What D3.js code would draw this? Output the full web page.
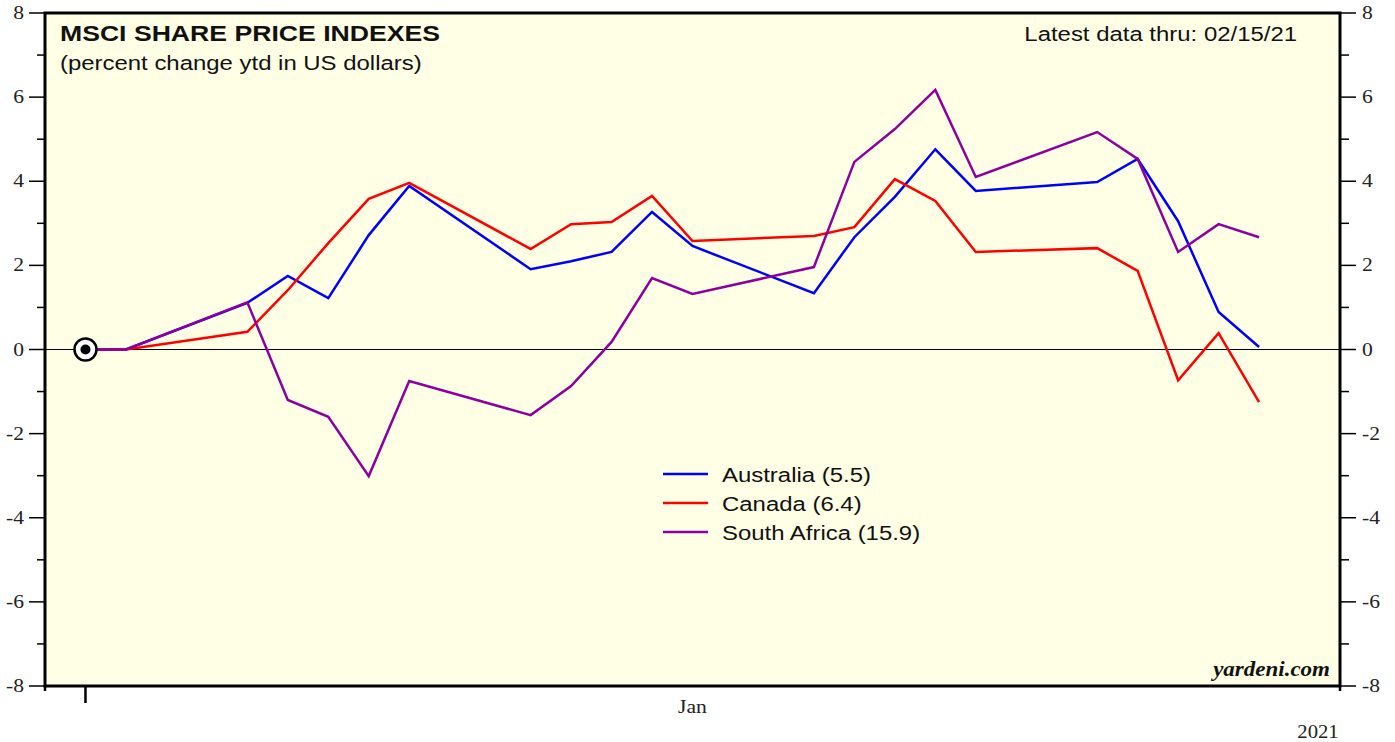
<!DOCTYPE html>
<html><head><meta charset="utf-8">
<script src="https://cdn.jsdelivr.net/npm/d3@7"></script>
<style>body{margin:0;background:#fff}svg{display:block}</style>
</head><body>
<svg id="c" width="1395" height="742"></svg>
<script>
const dates = ["2020-12-31","2021-01-01","2021-01-04","2021-01-05","2021-01-06","2021-01-07","2021-01-08",
 "2021-01-11","2021-01-12","2021-01-13","2021-01-14","2021-01-15","2021-01-18","2021-01-19","2021-01-20",
 "2021-01-21","2021-01-22","2021-01-25","2021-01-26","2021-01-27","2021-01-28","2021-01-29"];
const australia = [0,0,1.11,1.75,1.22,2.72,3.89,1.91,2.10,2.32,3.27,2.46,1.34,2.67,3.63,4.76,3.77,3.98,4.53,3.05,0.89,0.06];
const canada    = [0,0,0.42,1.41,2.53,3.58,3.96,2.39,2.98,3.03,3.65,2.58,2.70,2.91,4.05,3.53,2.32,2.41,1.87,-0.73,0.39,-1.25];
const southAfrica = [0,0,1.12,-1.20,-1.60,-3.01,-0.75,-1.56,-0.87,0.18,1.70,1.32,1.96,4.46,5.24,6.17,4.10,5.17,4.53,2.32,2.98,2.67];
const seriesNames = ["Australia (5.5)","Canada (6.4)","South Africa (15.9)"];
const seriesColors = ["#0000ff","#ff0000","#8c00a0"];
const yTicks = [-8,-6,-4,-2,0,2,4,6,8];
const yMinor = [-7,-5,-3,-1,1,3,5,7];
const xDomain = ["2020-12-30","2021-01-31"];
const monthLabels = [{label:"Jan", date:"2021-01-15"}];
const yearLabel = "2021";

const svg = d3.select("#c");
const L=45, R=1340, T=13, B=686;
const parse = d3.utcParse("%Y-%m-%d");
const x = d3.scaleUtc().domain(xDomain.map(parse)).range([L,R]);
const y = d3.scaleLinear().domain([-8,8]).range([B,T]);
const serif = "Liberation Serif, Times New Roman, serif";
const sans = "Liberation Sans, Arial, sans-serif";

function txt(parent, tx, ty, str, o){
  const g = parent.append("g").attr("transform",`translate(${tx},${ty}) scale(${o.sx||1},1)`);
  return g.append("text").attr("x",0).attr("y",0)
    .attr("text-anchor",o.anchor||"start")
    .attr("font-family",o.family||sans).attr("font-size",o.size||18)
    .attr("font-weight",o.weight||"normal").attr("font-style",o.style||"normal")
    .attr("fill",o.fill||"#111").text(str);
}

svg.append("rect").attr("x",L).attr("y",T).attr("width",R-L).attr("height",B-T).attr("fill","#ffffe6");

// y axes
const leftAx = svg.append("g");
leftAx.selectAll("line.maj").data(yTicks).join("line").attr("x1",29).attr("x2",L).attr("y1",d=>y(d)).attr("y2",d=>y(d)).attr("stroke","#000").attr("stroke-width",1.5);
leftAx.selectAll("line.min").data(yMinor).join("line").attr("x1",37).attr("x2",L).attr("y1",d=>y(d)).attr("y2",d=>y(d)).attr("stroke","#000").attr("stroke-width",1.5);
yTicks.forEach(d=>txt(leftAx, 24, y(d)+6, d, {family:serif,size:18,anchor:"end",sx:1.2,fill:"#222"}));
const rightAx = svg.append("g");
rightAx.selectAll("line.maj").data(yTicks).join("line").attr("x1",R).attr("x2",R+16).attr("y1",d=>y(d)).attr("y2",d=>y(d)).attr("stroke","#000").attr("stroke-width",1.5);
rightAx.selectAll("line.min").data(yMinor).join("line").attr("x1",R).attr("x2",R+9).attr("y1",d=>y(d)).attr("y2",d=>y(d)).attr("stroke","#000").attr("stroke-width",1.5);
yTicks.forEach(d=>txt(rightAx, R+22, y(d)+6, d, {family:serif,size:18,anchor:"start",sx:1.2,fill:"#222"}));

// zero line
svg.append("line").attr("x1",L).attr("x2",R).attr("y1",y(0)).attr("y2",y(0)).attr("stroke","#000").attr("stroke-width",1);

// lines
const allSeries = [australia, canada, southAfrica];
const line = d3.line().x((d,i)=>x(parse(dates[i]))).y(d=>y(d));
[0,1,2].forEach(k=>{
  svg.append("path").datum(allSeries[k]).attr("d",line).attr("fill","none")
   .attr("stroke",seriesColors[k]).attr("stroke-width",2.5).attr("stroke-linejoin","miter");
});

// start marker
const x0 = x(parse(dates[0]));
svg.append("circle").attr("cx",x0).attr("cy",y(0)).attr("r",11).attr("fill","#fff").attr("stroke","#000").attr("stroke-width",2.5);
svg.append("circle").attr("cx",x0).attr("cy",y(0)).attr("r",5).attr("fill","#000");

// frame
svg.append("rect").attr("x",L).attr("y",T).attr("width",R-L).attr("height",B-T).attr("fill","none").attr("stroke","#000").attr("stroke-width",3);

// bottom ticks
svg.append("line").attr("x1",x0).attr("x2",x0).attr("y1",B).attr("y2",B+17).attr("stroke","#000").attr("stroke-width",2.5);
[L,R].forEach(v=>svg.append("line").attr("x1",v).attr("x2",v).attr("y1",B).attr("y2",B+5).attr("stroke","#000").attr("stroke-width",2.5));
monthLabels.forEach(m=>txt(svg, x(parse(m.date)), 713, m.label, {family:serif,size:18,anchor:"middle",sx:1.2,fill:"#222"}));
txt(svg, 1318, 738, yearLabel, {family:serif,size:18,anchor:"middle",sx:1.15,fill:"#222"});

// titles
txt(svg, 60, 41, "MSCI SHARE PRICE INDEXES", {size:22,weight:"bold",sx:1.21});
txt(svg, 60, 70, "(percent change ytd in US dollars)", {size:21,sx:1.14});
txt(svg, 1297, 41, "Latest data thru: 02/15/21", {size:21,anchor:"end",sx:1.14});
txt(svg, 1330, 676, "yardeni.com", {family:serif,size:20,weight:"bold",style:"italic",anchor:"end",sx:1.15});

// legend
const lg = svg.append("g");
seriesNames.forEach((n,i)=>{
  const yy = 474 + i*29;
  lg.append("line").attr("x1",663).attr("x2",708).attr("y1",yy).attr("y2",yy).attr("stroke",seriesColors[i]).attr("stroke-width",2.5);
  txt(lg, 722, yy+8, n, {size:21,sx:1.14});
});
</script>
</body></html>
